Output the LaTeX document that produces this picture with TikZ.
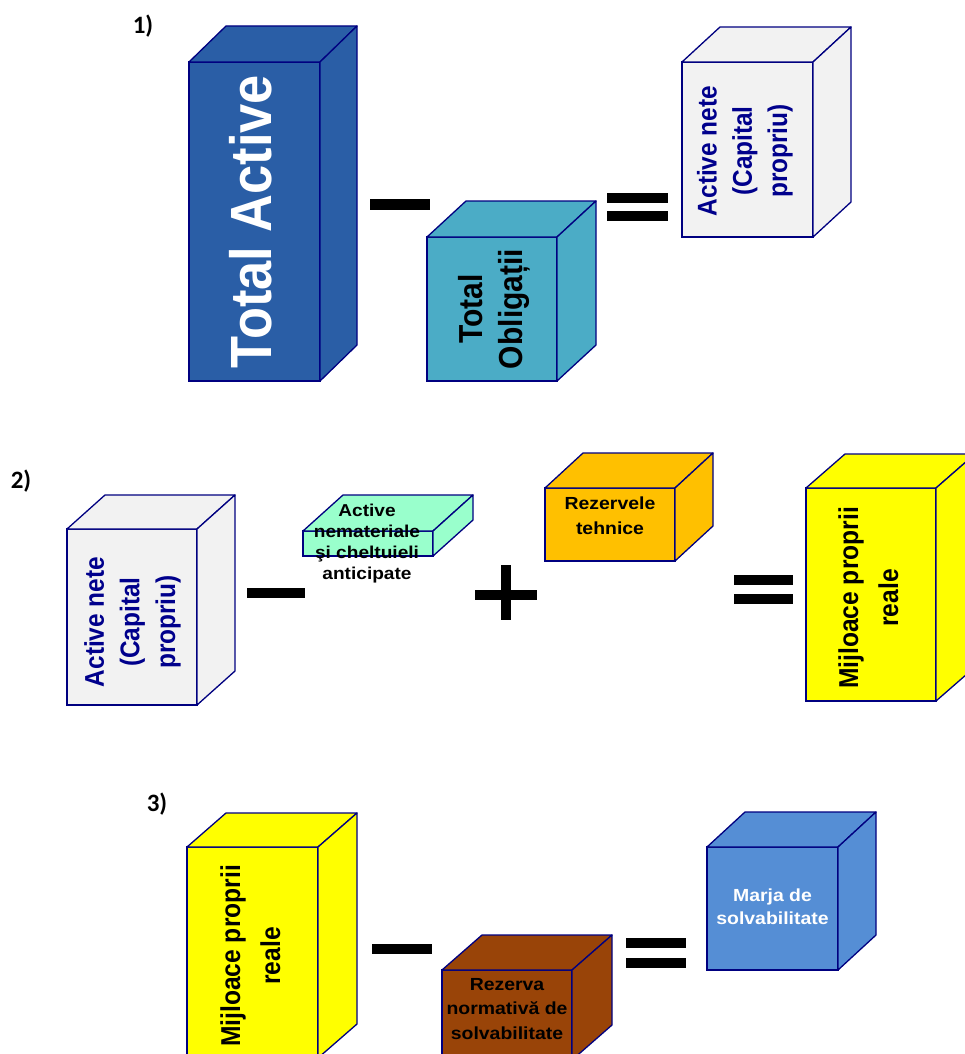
\documentclass[tikz,border=0pt]{standalone}
\usepackage{fontspec}
\setmainfont{Liberation Sans}
\newfontfamily\lblfont{Carlito}
\usepackage{graphicx}
\newcommand\hx[1]{\scalebox{1.11}[1]{#1}}
\newcommand\vx[1]{\scalebox{1}[1.11]{#1}}
\newcommand\lns[1]{\begin{tabular}[b]{@{}c@{}}#1\end{tabular}}
\newcommand\fs[2]{\fontsize{#1}{#2}\selectfont\bfseries}
\definecolor{edge}{RGB}{0,0,128}
\definecolor{tnavy}{RGB}{0,0,140}
\definecolor{tablue}{RGB}{42,94,166}
\definecolor{tocyan}{RGB}{75,172,198}
\definecolor{grayf}{RGB}{242,242,242}
\definecolor{aqua}{RGB}{153,255,204}
\definecolor{orng}{RGB}{255,192,0}
\definecolor{yell}{RGB}{255,255,0}
\definecolor{brwn}{RGB}{153,68,8}
\definecolor{mblue}{RGB}{85,142,213}
\newcommand\cubebox[8]{%
 \node[front, fill=#8, minimum width=#4pt, minimum height=#5pt] (#1) at (#2,#3) {};
 \draw[face, fill=#8] (#1.north west) -- ++(#6,-#7) -- ++(#4,0) -- (#1.north east) -- cycle;
 \draw[face, fill=#8] (#1.north east) -- ++(#6,-#7) -- ++(0,#5) -- (#1.south east) -- cycle;}
\begin{document}
\begin{tikzpicture}[x=1pt,y=-1pt,
 front/.style={draw=edge, line width=1.3pt, rectangle, inner sep=0pt, outer sep=0pt, anchor=north west},
 face/.style={draw=edge, line width=1.3pt, line join=round},
 bar/.style={fill=black, rectangle, inner sep=0pt, outer sep=0pt},
 txt/.style={inner sep=0pt, anchor=base},
 rtxt/.style={inner sep=0pt, anchor=base, rotate=90},
 lbl/.style={inner sep=0pt, anchor=base, font=\lblfont\fontsize{25}{28}\selectfont\bfseries}]
\useasboundingbox (0,0) rectangle (965,1054);
\clip (0,0) rectangle (965,1054);
% row 1
\cubebox{ta}{189}{62}{131}{319}{37}{36}{tablue}
\cubebox{to}{427}{237}{130}{144}{39}{36}{tocyan}
\cubebox{an1}{682}{62}{131}{175}{38}{35}{grayf}
\node[rtxt, text=white, font=\fs{52.4}{60}] (tat) at (271.7,221.5) {\vx{Total Active}};
\node[rtxt, font=\fs{30}{36}] (tot) at (522,309) {\vx{\lns{Total\\Obligații}}};
\node[rtxt, text=tnavy, font=\fs{24.4}{31.7}] (an1t) at (787,151) {\vx{\lns{Active nete\\(Capital\\propriu)}}};
\node[bar, minimum width=60pt, minimum height=11pt] (m1) at (400,204.5) {};
\node[bar, minimum width=61pt, minimum height=10pt] (e1a) at (637.5,197.5) {};
\node[bar, minimum width=61pt, minimum height=10pt] (e1b) at (637.5,216) {};
\node[lbl] (l1) at (143,34) {1)};
% row 2
\cubebox{an2}{67}{529}{130}{176}{38}{34}{grayf}
\cubebox{nm}{303}{531}{130}{25}{40}{36}{aqua}
\cubebox{rt}{545}{488}{130}{73}{38}{35}{orng}
\cubebox{mp2}{806}{488}{130}{213}{39}{34}{yell}
\node[rtxt, text=tnavy, font=\fs{24.4}{32}] (an2t) at (175,622) {\vx{\lns{Active nete\\(Capital\\propriu)}}};
\node[txt, font=\fs{17.2}{21.1}] (nmt) at (367,579.3) {\hx{\lns{Active\\nemateriale\\şi cheltuieli\\anticipate}}};
\node[txt, font=\fs{17.5}{24.7}] (rtt) at (610,534) {\hx{\lns{Rezervele\\tehnice}}};
\node[rtxt, font=\fs{24.6}{36}] (mp2t) at (898,598) {\vx{\lns{Mijloace proprii\\reale}}};
\node[bar, minimum width=58pt, minimum height=10pt] (m2) at (276,593) {};
\node[bar, minimum width=62pt, minimum height=10pt] (p2a) at (506,595) {};
\node[bar, minimum width=10pt, minimum height=55pt] (p2b) at (506,592.5) {};
\node[bar, minimum width=59pt, minimum height=10pt] (e2a) at (763.5,580) {};
\node[bar, minimum width=59pt, minimum height=10pt] (e2b) at (763.5,599) {};
\node[lbl] (l2) at (21,488) {2)};
% row 3
\cubebox{mp3}{187}{847}{131}{211}{39}{34}{yell}
\cubebox{rn}{442}{970}{130}{90}{40}{35}{brwn}
\cubebox{ms}{707}{847}{131}{123}{38}{35}{mblue}
\node[rtxt, font=\fs{24.6}{36}] (mp3t) at (280,956) {\vx{\lns{Mijloace proprii\\reale}}};
\node[txt, font=\fs{17.5}{24.5}] (rnt) at (507,1039) {\hx{\lns{Rezerva\\normativă de\\solvabilitate}}};
\node[txt, text=white, font=\fs{17.5}{22.3}] (mst) at (772.5,924) {\hx{\lns{Marja de\\solvabilitate}}};
\node[bar, minimum width=60pt, minimum height=10pt] (m3) at (402,949) {};
\node[bar, minimum width=60pt, minimum height=10pt] (e3a) at (656,943) {};
\node[bar, minimum width=60pt, minimum height=10pt] (e3b) at (656,962.5) {};
\node[lbl] (l3) at (157,811) {3)};
\end{tikzpicture}
\end{document}
